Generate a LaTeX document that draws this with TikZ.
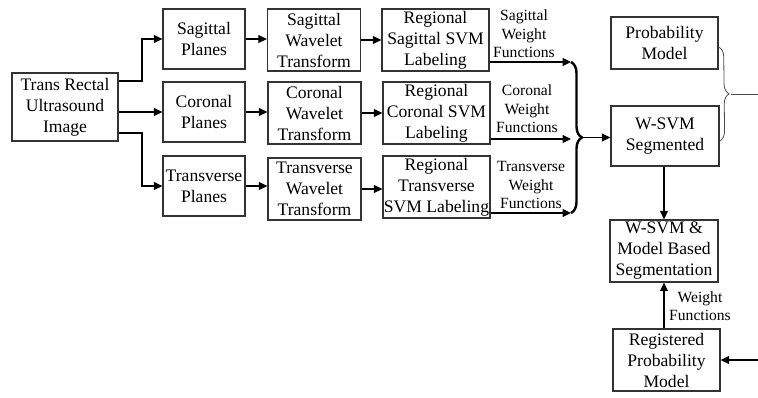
\documentclass[tikz,border=0pt]{standalone}
\usepackage{fontspec}
\setmainfont{Liberation Serif}
\usetikzlibrary{arrows.meta}
\usetikzlibrary{decorations.pathreplacing}

\begin{document}
\begin{tikzpicture}[x=1pt,y=-1pt,
 blk/.style={draw=black!80, line width=1.3pt, fill=white, inner sep=0, align=center, font=\fontsize{17.6}{21}\selectfont},
 lbl/.style={align=center, inner sep=0, font=\fontsize{15.6}{18.5}\selectfont},
 arr/.style={line width=1.2pt, -{Triangle[length=8.5pt,width=8pt]}}]
\useasboundingbox (0,0) rectangle (758,397);
% input image
\node[blk, minimum width=106, minimum height=68] (img) at (65,107) {Trans Rectal\\Ultrasound\\Image};
% planes
\node[blk, minimum width=82, minimum height=60] (sag-p) at (204,39) {Sagittal\\Planes};
\node[blk, minimum width=82, minimum height=60] (cor-p) at (204,112) {Coronal\\Planes};
\node[blk, minimum width=82, minimum height=60] (tra-p) at (204,186) {Transverse\\Planes};
% wavelets
\node[blk, minimum width=93, minimum height=62] (sag-w) at (314,40) {Sagittal\\Wavelet\\Transform};
\node[blk, minimum width=93, minimum height=62] (cor-w) at (314.5,113) {Coronal\\Wavelet\\Transform};
\node[blk, minimum width=93, minimum height=62] (tra-w) at (314.5,189) {Transverse\\Wavelet\\Transform};
% regional svm
\node[blk, minimum width=107, minimum height=62] (sag-r) at (435.5,40) {Regional\\Sagittal SVM\\Labeling};
\node[blk, minimum width=107, minimum height=62] (cor-r) at (436.5,113) {Regional\\Coronal SVM\\Labeling};
\node[blk, minimum width=107, minimum height=62] (tra-r) at (436.5,187) {Regional\\Transverse\\SVM Labeling};
% right column
\node[blk, minimum width=107, minimum height=52] (prob) at (664.5,43) {Probability\\Model};
\node[blk, minimum width=108, minimum height=60] (wsvm) at (665,136) {W-SVM\\Segmented};
\node[blk, minimum width=108, minimum height=62] (model) at (664,251) {W-SVM \&\\Model Based\\Segmentation};
\node[blk, minimum width=107, minimum height=62] (reg) at (666.5,360) {Registered\\Probability\\Model};
% weight labels
\node[lbl] (sag-l) at (524,34) {Sagittal\\Weight\\Functions};
\node[lbl] (cor-l) at (527,109) {Coronal\\Weight\\Functions};
\node[lbl] (tra-l) at (531,185) {Transverse\\Weight\\Functions};
\node[lbl] (reg-l) at (700,306) {Weight\\Functions};

% split into planes
\coordinate (split) at (142,112);
\draw[arr] (img.east |- 0,81) -- (split |- 0,81) |- (sag-p.west);
\draw[arr] (img.east |- cor-p.west) -- (cor-p.west);
\draw[arr] (img.east |- 0,133) -- (split |- 0,133) |- (tra-p.west);
\foreach \r in {sag,cor,tra} {
 \draw[arr] (\r-p.east) -- (\r-p.east -| \r-w.west);
 \draw[arr] (\r-w.east) -- (\r-w.east -| \r-r.west);
}
% brace
\coordinate (btop) at (571,62);
\coordinate (bbot) at (571,213);
\coordinate (btip) at (582,137.5);
\draw[decorate, decoration={brace, amplitude=11pt}, line width=2.4pt] (btop) -- (bbot);
\draw[arr] (sag-r.east |- btop) -- (btop);
\draw[arr] (cor-r.east |- 0,139) -- (btop |- 0,139);
\draw[arr] (tra-r.east |- bbot) -- (bbot);
\draw[arr] (btip) -- (wsvm.west |- btip);
% down the right column
\draw[arr] (wsvm.south -| model.north) -- (model.north);
\draw[arr] (reg.north -| model.south) -- (model.south);
\coordinate (rtip) at (731,94);
\coordinate (rout) at (758,94);
\coordinate (rin) at (758,360);
\draw[decorate, decoration={brace, amplitude=10pt}, line width=0.8pt, draw=black!70] (prob.east |- 0,47) -- (wsvm.east |- 0,141);
\draw[line width=0.8pt, draw=black!70] (rtip) -- (rout);
\draw[arr] (rin) -- (reg.east);
\end{tikzpicture}
\end{document}
